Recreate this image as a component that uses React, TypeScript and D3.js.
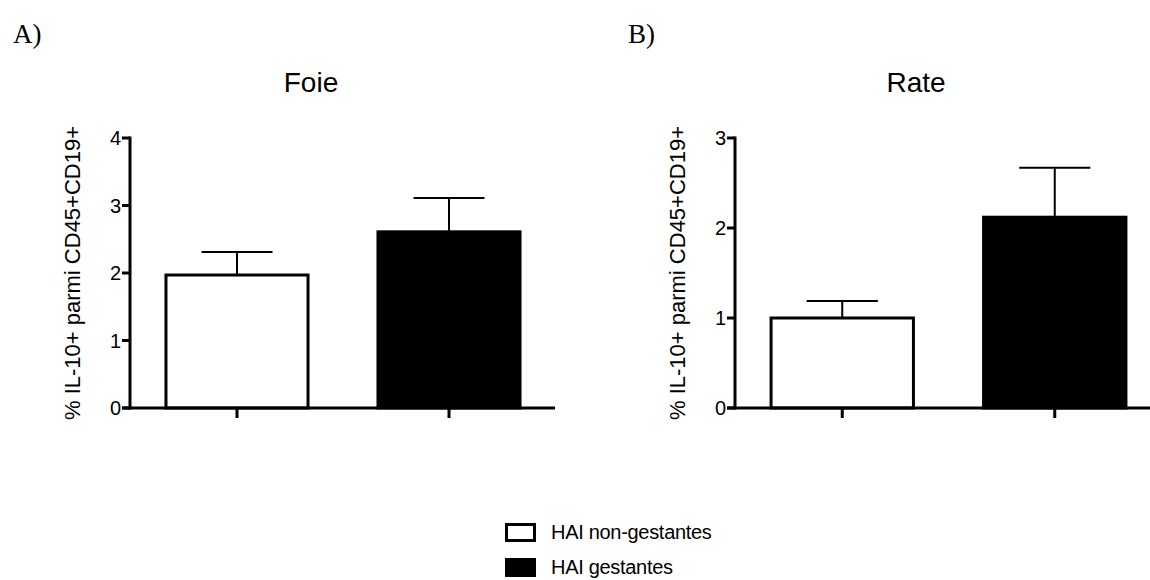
import React, { useEffect, useRef } from 'react';
import * as d3 from 'd3';

// groups (legend order)
const groups = ['HAI non-gestantes', 'HAI gestantes'];
const groupFill = ['#ffffff', '#000000'];

// Foie (liver)
const foieMeans = [1.97, 2.61];
const foieSem = [0.34, 0.5];
const foieTicks = [0, 1, 2, 3, 4];

// Rate (spleen)
const rateMeans = [1.0, 2.12];
const rateSem = [0.19, 0.55];
const rateTicks = [0, 1, 2, 3];

const yLabel = '% IL-10+ parmi CD45+CD19+';

interface PanelSpec {
  letter: string;
  title: string;
  means: number[];
  sem: number[];
  ticks: number[];
  axisX: number;
  xEnd: number;
  titleX: number;
  letterX: number;
  labelX: number;
}

const panels: PanelSpec[] = [
  { letter: 'A)', title: 'Foie', means: foieMeans, sem: foieSem, ticks: foieTicks, axisX: 130, xEnd: 555, titleX: 311, letterX: 13, labelX: 80 },
  { letter: 'B)', title: 'Rate', means: rateMeans, sem: rateSem, ticks: rateTicks, axisX: 735, xEnd: 1161, titleX: 916, letterX: 628, labelX: 685 },
];

const W = 1150;
const H = 580;
const plotTop = 138;
const plotBottom = 408;
const font = 'Arial, "Liberation Sans", sans-serif';

export default function App() {
  const svgRef = useRef<SVGSVGElement>(null);

  useEffect(() => {
    if (!svgRef.current) return;
    const svg = d3.select(svgRef.current);
    svg.selectAll('*').remove();

    panels.forEach((p) => {
      const g = svg.append('g');
      const yMax = p.ticks[p.ticks.length - 1];
      const y = d3.scaleLinear().domain([0, yMax]).range([plotBottom, plotTop]);
      const x = d3.scaleBand<string>()
        .domain(groups)
        .range([p.axisX + 1, p.xEnd])
        .paddingInner(0.33)
        .paddingOuter(0.165);

      // panel letter + title
      g.append('text')
        .attr('x', p.letterX).attr('y', 43)
        .attr('font-family', '"Liberation Serif", "Times New Roman", serif')
        .attr('font-size', 27)
        .text(p.letter);
      g.append('text')
        .attr('x', p.titleX).attr('y', 92)
        .attr('text-anchor', 'middle')
        .attr('font-family', font)
        .attr('font-size', 28)
        .text(p.title);

      // y label
      g.append('text')
        .attr('transform', `translate(${p.labelX},${(plotTop + plotBottom) / 2}) rotate(-90)`)
        .attr('text-anchor', 'middle')
        .attr('font-family', font)
        .attr('font-size', 22)
        .text(yLabel);

      // bars
      groups.forEach((grp, i) => {
        const bx = x(grp) || 0;
        const top = y(p.means[i]);
        g.append('rect')
          .attr('x', bx).attr('y', top)
          .attr('width', x.bandwidth())
          .attr('height', y(0) - top)
          .attr('fill', groupFill[i])
          .attr('stroke', '#000')
          .attr('stroke-width', 3);
        const cx = bx + x.bandwidth() / 2;
        const eTop = y(p.means[i] + p.sem[i]);
        g.append('line')
          .attr('x1', cx).attr('x2', cx)
          .attr('y1', top).attr('y2', eTop)
          .attr('stroke', '#000').attr('stroke-width', 2);
        g.append('line')
          .attr('x1', cx - x.bandwidth() / 4).attr('x2', cx + x.bandwidth() / 4)
          .attr('y1', eTop).attr('y2', eTop)
          .attr('stroke', '#000').attr('stroke-width', 2);
      });

      // y axis
      g.append('line')
        .attr('x1', p.axisX).attr('x2', p.axisX)
        .attr('y1', y(0) + 1.5).attr('y2', y(yMax) - 1.5)
        .attr('stroke', '#000').attr('stroke-width', 3);
      p.ticks.forEach((t) => {
        g.append('line')
          .attr('x1', p.axisX - 8).attr('x2', p.axisX)
          .attr('y1', y(t)).attr('y2', y(t))
          .attr('stroke', '#000').attr('stroke-width', 3);
        g.append('text')
          .attr('x', p.axisX - 9).attr('y', y(t))
          .attr('dy', '0.36em')
          .attr('text-anchor', 'end')
          .attr('font-family', font)
          .attr('font-size', 20)
          .text(t);
      });

      // x axis
      g.append('line')
        .attr('x1', p.axisX - 8).attr('x2', p.xEnd)
        .attr('y1', y(0)).attr('y2', y(0))
        .attr('stroke', '#000').attr('stroke-width', 3);
      groups.forEach((grp) => {
        const cx = (x(grp) || 0) + x.bandwidth() / 2;
        g.append('line')
          .attr('x1', cx).attr('x2', cx)
          .attr('y1', y(0)).attr('y2', y(0) + 10)
          .attr('stroke', '#000').attr('stroke-width', 3);
      });
    });

    // legend
    const leg = svg.append('g').attr('transform', 'translate(505,523)');
    groups.forEach((grp, i) => {
      leg.append('rect')
        .attr('x', 1.5).attr('y', i * 35 + 1.5)
        .attr('width', 28).attr('height', 16)
        .attr('fill', groupFill[i])
        .attr('stroke', '#000').attr('stroke-width', 3);
      leg.append('text')
        .attr('x', 46).attr('y', i * 35 + 16)
        .attr('font-family', font)
        .attr('font-size', 20)
        .attr('letter-spacing', -0.3)
        .text(grp);
    });
  }, []);

  return (
    <div style={{ position: 'absolute', left: 0, top: 0, width: W, height: H, background: '#fff' }}>
      <svg ref={svgRef} width={W} height={H} style={{ display: 'block' }} />
    </div>
  );
}
